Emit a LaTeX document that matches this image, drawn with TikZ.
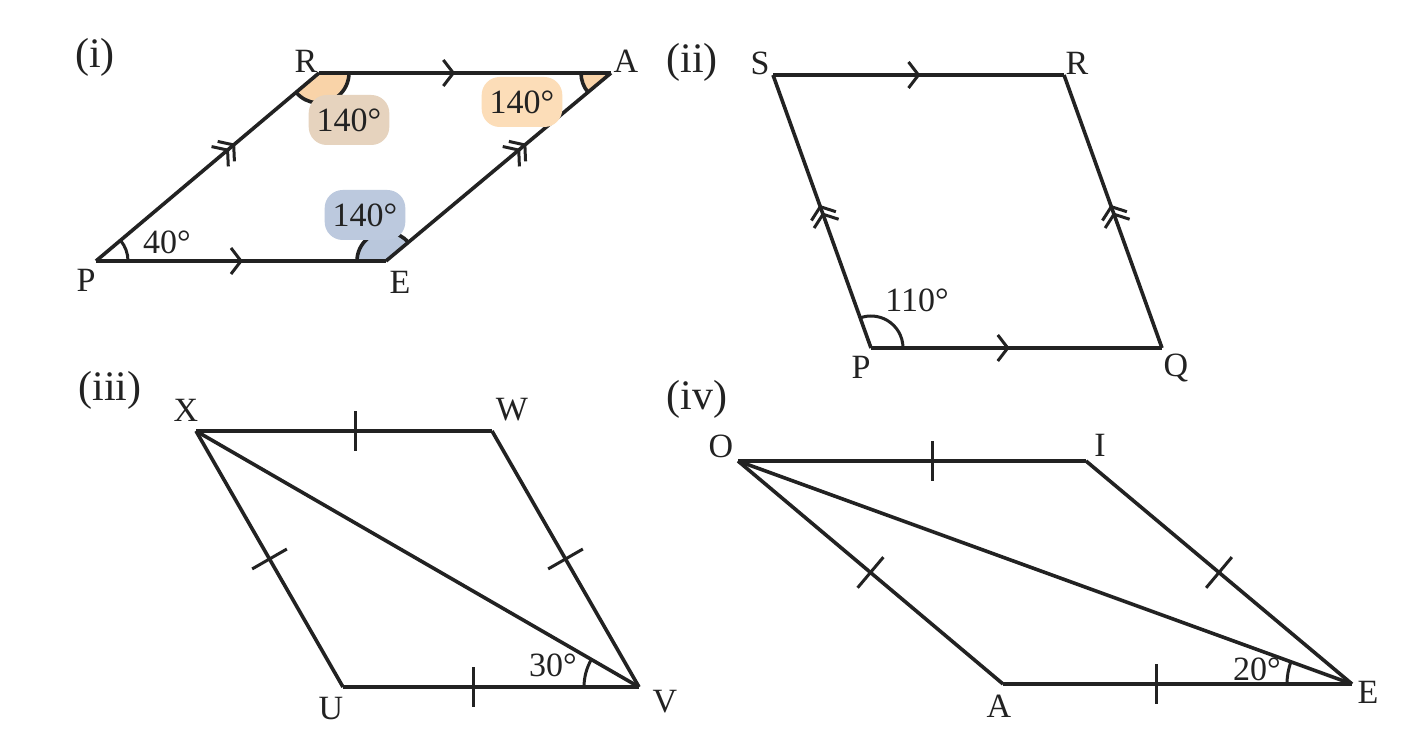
\documentclass[tikz,border=0pt]{standalone}
\usepackage{fontspec}
\setmainfont{Liberation Serif}
\usetikzlibrary{decorations.markings,calc}
\definecolor{ink}{HTML}{222222}
\definecolor{orsec}{HTML}{F9D3A8}
\definecolor{bluesec}{HTML}{B9C7DC}
\definecolor{tantag}{HTML}{E6D3BE}
\definecolor{ortag}{HTML}{FCDDB8}
\definecolor{bluetag}{HTML}{BCC9DE}
\begin{document}
\begin{tikzpicture}[x=1pt,y=1pt,line width=3.6pt,draw=ink,
  lab/.style={font=\fontsize{34}{38}\selectfont,text=ink,inner sep=1pt},
  num/.style={font=\fontsize{42}{46}\selectfont,text=ink},
  tag/.style={lab,rounded corners=18pt,inner sep=8pt,minimum height=50pt},
  arr/.style={postaction={decorate},decoration={markings,mark=at position #1 with {\draw[line width=3pt,line join=miter] (-10,13)--(0,0)--(-10,-13);}}},
  darr/.style={postaction={decorate},decoration={markings,mark=at position #1 with {\draw[line width=3pt] (-10,13)--(0,0)--(-10,-13) (-2,13)--(8,0)--(-2,-13);}}},
  tick/.style={postaction={decorate},decoration={markings,mark=at position #1 with {\draw[line width=3pt] (0,-20)--(0,20);}}}]
\useasboundingbox (0,0) rectangle (1409,752);
\fill[white] (0,0) rectangle (1409,752);
% (i)
\coordinate (P1) at (96,491); \coordinate (E1) at (386,491);
\coordinate (R1) at (319,679); \coordinate (A1) at (611,679);
\fill[orsec] (R1) -- +(220:30) arc[start angle=220,end angle=360,radius=30] -- cycle;
\fill[orsec] (A1) -- +(180:30) arc[start angle=180,end angle=220,radius=30] -- cycle;
\fill[bluesec] (E1) -- +(40:29) arc[start angle=40,end angle=180,radius=29] -- cycle;
\draw ($(R1)+(220:30)$) arc[start angle=220,end angle=360,radius=30];
\draw ($(A1)+(180:30)$) arc[start angle=180,end angle=220,radius=30];
\draw ($(E1)+(40:29)$) arc[start angle=40,end angle=180,radius=29];
\draw[line width=3pt] ($(P1)+(0:32)$) arc[start angle=0,end angle=40,radius=32];
\draw[arr=0.5] (P1) -- (E1);
\draw[arr=0.46] (R1) -- (A1);
\draw[darr=0.59] (P1) -- (R1);
\draw[darr=0.59] (E1) -- (A1);
\node[num] (t1) at (95,695) {(i)};
\node[lab] (lR1) at (306,691) {R};
\node[lab] (lA1) at (626,691) {A};
\node[lab] (lP1) at (86,472) {P};
\node[lab] (lE1) at (400,470) {E};
\node[lab] (a40) at (167,510) {40°};
\node[tag,fill=tantag] (g1) at (349,632) {140°};
\node[tag,fill=ortag] (g2) at (522,650) {140°};
\node[tag,fill=bluetag] (g3) at (365,537) {140°};
% (ii)
\coordinate (S2) at (773,677); \coordinate (R2) at (1064,677);
\coordinate (P2) at (871,404); \coordinate (Q2) at (1162,404);
\draw[arr=0.5] (S2) -- (R2);
\draw[arr=0.47] (P2) -- (Q2);
\draw[darr=0.49] (P2) -- (S2);
\draw[darr=0.49] (Q2) -- (R2);
\draw[line width=3pt] ($(P2)+(0:32)$) arc[start angle=0,end angle=110,radius=32];
\node[num] (t2) at (692,690) {(ii)};
\node[lab] (lS2) at (760,689) {S};
\node[lab] (lR2) at (1077,689) {R};
\node[lab] (lP2) at (861,385) {P};
\node[lab] (lQ2) at (1176,384) {Q};
\node[lab] (a110) at (917,452) {110°};
% (iii)
\coordinate (X3) at (196,321); \coordinate (W3) at (492,321);
\coordinate (U3) at (343,65); \coordinate (V3) at (639,65);
\draw[tick=0.54] (X3) -- (W3);
\draw[tick=0.5] (W3) -- (V3);
\draw[tick=0.44] (U3) -- (V3);
\draw[tick=0.5] (X3) -- (U3);
\draw (X3) -- (V3);
\draw[line width=3pt] ($(V3)+(180:55)$) arc[start angle=180,end angle=150,radius=55];
\node[num] (t3) at (110,362) {(iii)};
\node[lab] (lX3) at (186,342) {X};
\node[lab] (lW3) at (512,342) {W};
\node[lab] (lU3) at (331,43) {U};
\node[lab] (lV3) at (665,50) {V};
\node[lab] (a30) at (553,87) {30°};
% (iv)
\coordinate (O4) at (738,291); \coordinate (I4) at (1086,291);
\coordinate (A4) at (1003,68); \coordinate (E4) at (1352,68);
\draw[tick=0.56] (O4) -- (I4);
\draw[tick=0.5] (I4) -- (E4);
\draw[tick=0.44] (A4) -- (E4);
\draw[tick=0.5] (O4) -- (A4);
\draw (O4) -- (E4);
\draw[line width=3pt] ($(E4)+(180:65)$) arc[start angle=180,end angle=160,radius=65];
\node[num] (t4) at (697,353) {(iv)};
\node[lab] (lO4) at (721,306) {O};
\node[lab] (lI4) at (1100,307) {I};
\node[lab] (lA4) at (999,46) {A};
\node[lab] (lE4) at (1368,60) {E};
\node[lab] (a20) at (1257,83) {20°};
\end{tikzpicture}
\end{document}
